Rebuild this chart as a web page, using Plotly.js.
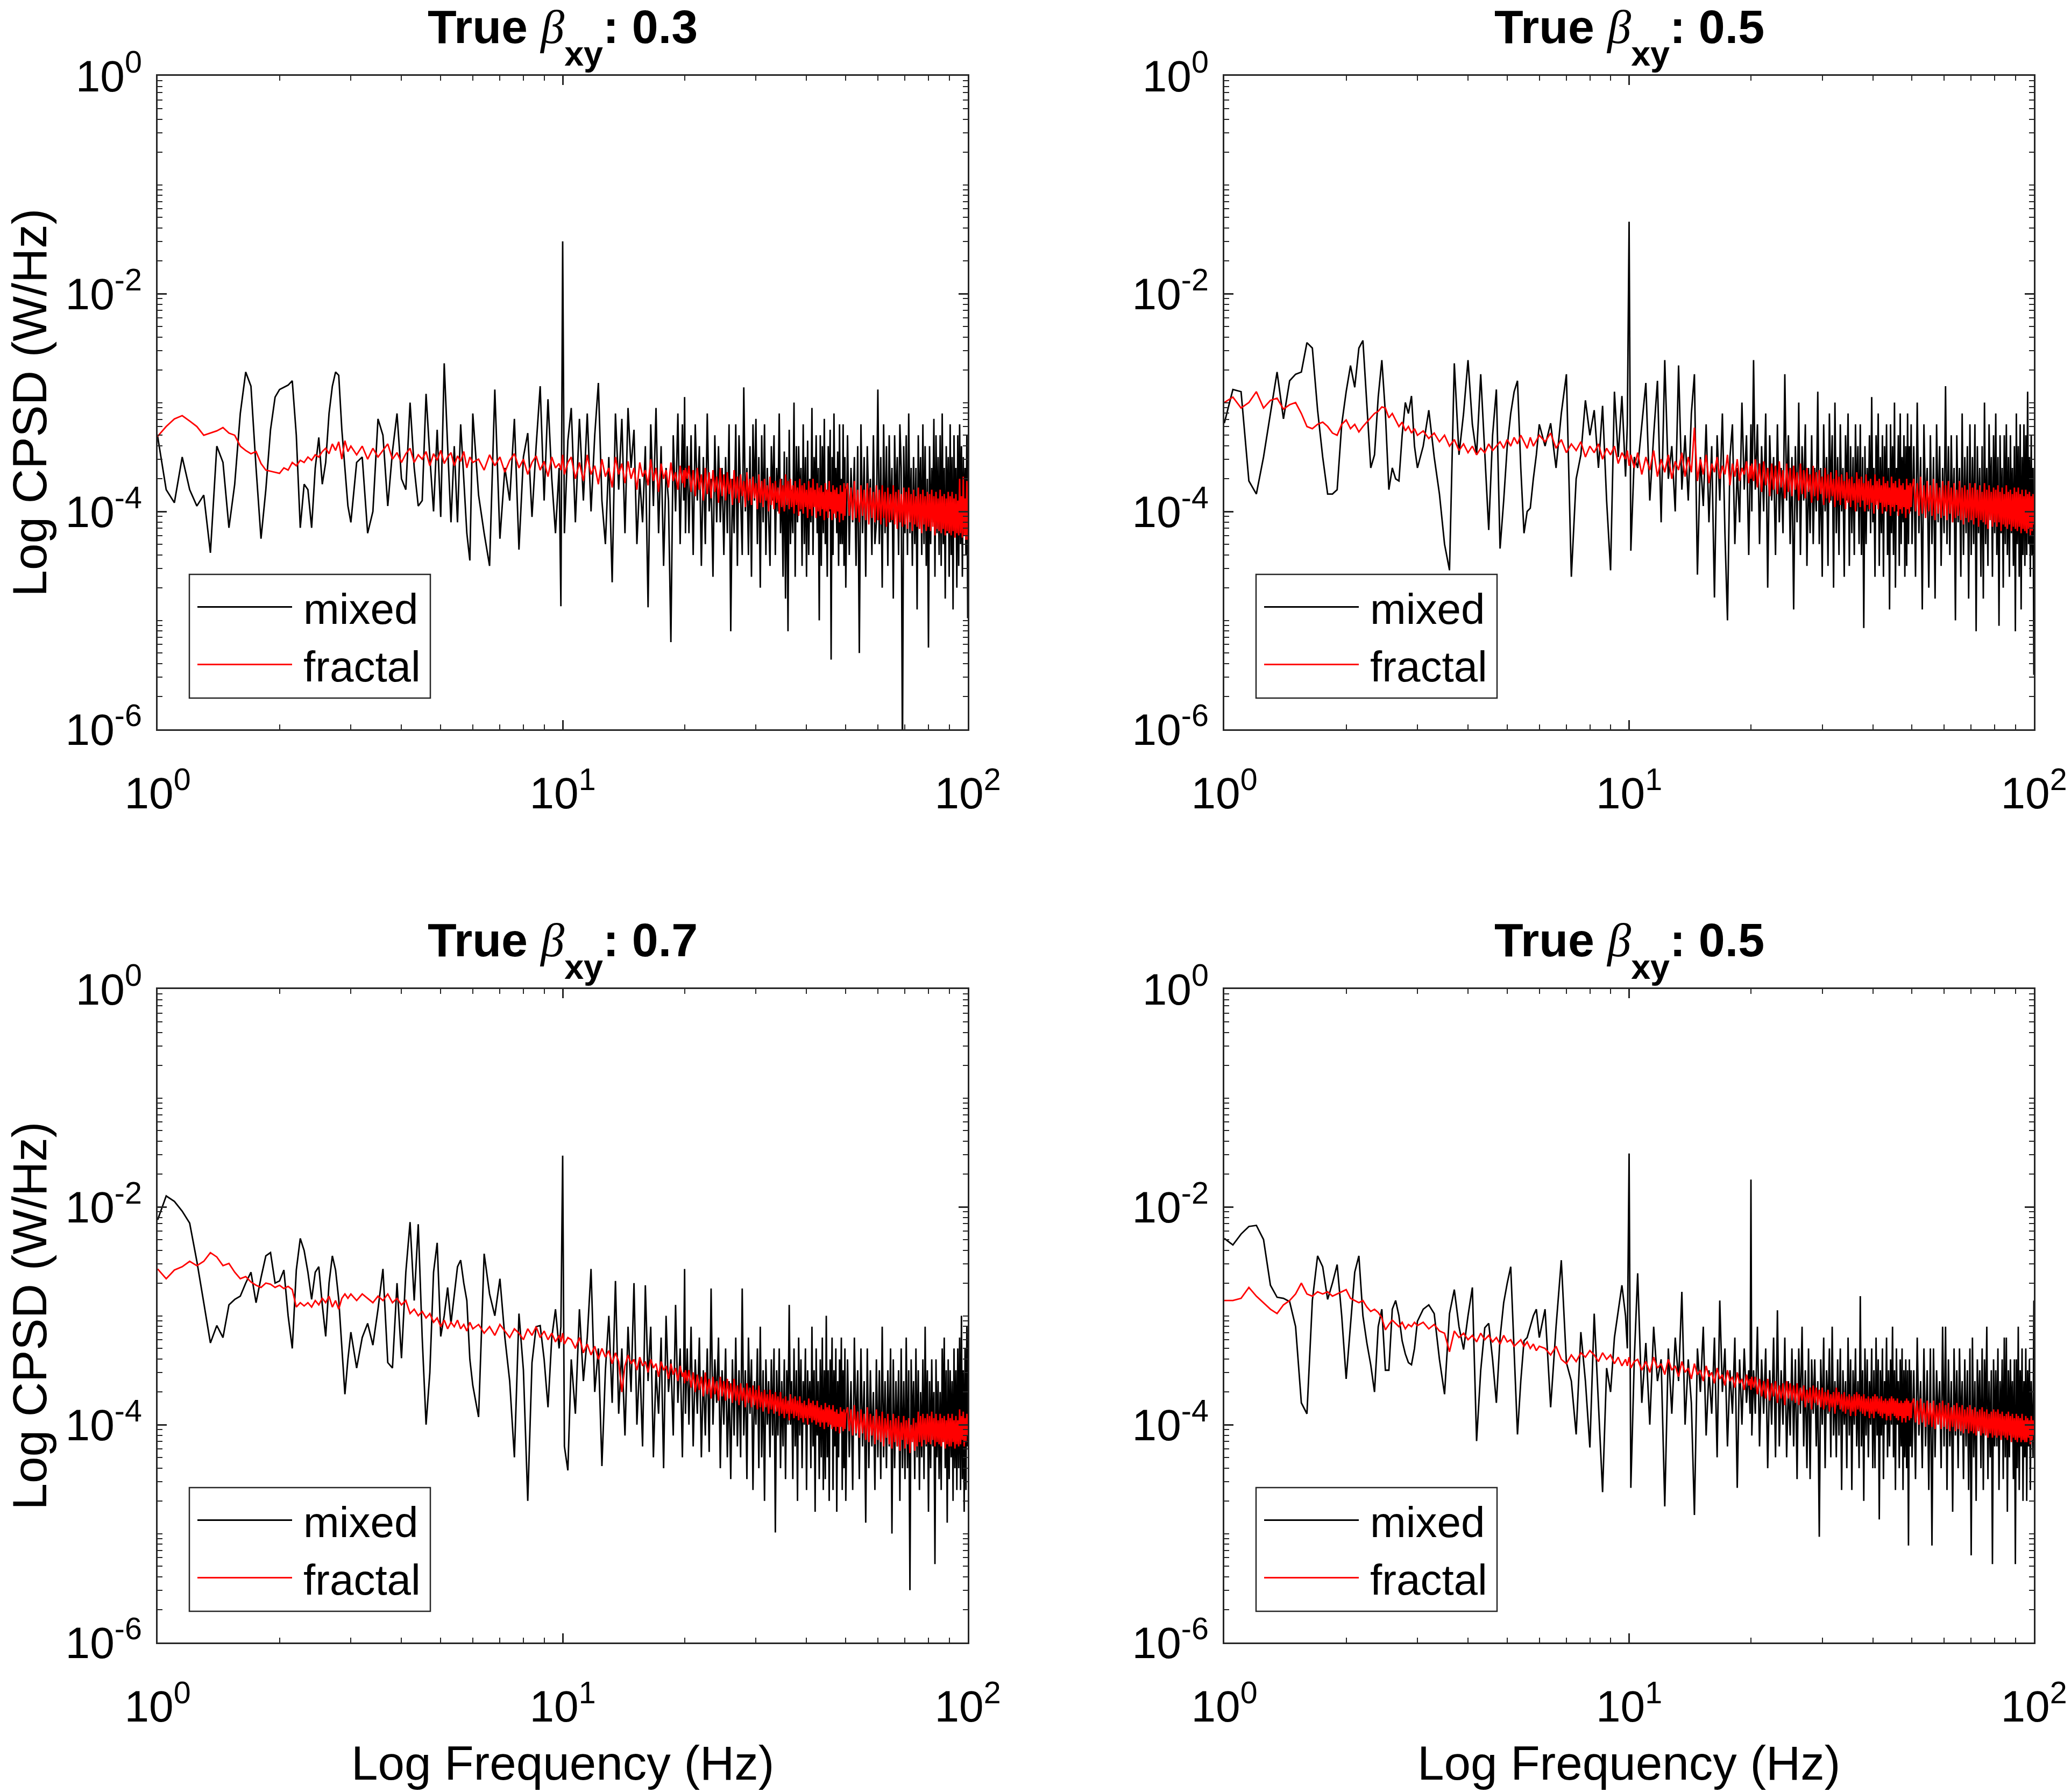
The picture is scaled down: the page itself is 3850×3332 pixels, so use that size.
<!DOCTYPE html>
<html>
<head>
<meta charset="utf-8">
<script src="https://cdn.plot.ly/plotly-3.0.1.min.js"></script>
<style>html,body{margin:0;padding:0;background:#fff;}#chart{width:3850px;height:3332px;}</style>
</head>
<body>
<div id="chart"></div>
<script>
// ---------------- DATA (frequency in Hz, CPSD values stored as log10 of W/Hz) ----------------
const freqHz = [
  1,1.05,1.1,1.15,1.2,1.25,1.3,1.35,1.4,1.45,
  1.5,1.55,1.6,1.65,1.7,1.75,1.8,1.85,1.9,1.95,
  2,2.05,2.1,2.15,2.2,2.25,2.3,2.35,2.4,2.45,
  2.5,2.55,2.6,2.65,2.7,2.75,2.8,2.85,2.9,2.95,3,
  3.1,3.2,3.3,3.4,3.5,3.6,3.7,3.8,3.9,4,
  4.1,4.2,4.3,4.4,4.5,4.6,4.7,4.8,4.9,5,
  5.1,5.2,5.3,5.4,5.5,5.6,5.7,5.8,5.9,6,
  6.2,6.4,6.6,6.8,7,7.2,7.4,7.6,7.8,8,
  8.2,8.4,8.6,8.8,9,9.2,9.4,9.6,9.8,
  9.9,10,10.1,10.3,
  10.5,10.75,11,11.25,11.5,11.75,12,12.25,12.5,12.75,
  13,13.25,13.5,13.75,14,14.25,14.5,14.75,15,15.25,
  15.5,15.75,16,16.25,16.5,16.75,17,17.25,17.5,17.75,
  18,18.25,18.5,18.75,19,19.25,19.5,19.75,
  19.9,20,20.1,20.3,
  20.5,20.75,21,21.25,21.5,21.75,22,22.25,22.5,22.75,23,23.25,23.5,23.75,24,24.25,
  24.5,24.75,25,25.25,25.5,25.75,26,26.25,26.5,26.75,27,27.25,27.5,27.75,28,28.25,
  28.5,28.75,29,29.25,29.5,29.75,30,30.25,30.5,30.75,31,31.25,31.5,31.75,32,32.25,
  32.5,32.75,33,33.25,33.5,33.75,34,34.25,34.5,34.75,35,35.25,35.5,35.75,36,36.25,
  36.5,36.75,37,37.25,37.5,37.75,38,38.25,38.5,38.75,39,39.25,39.5,39.75,40,40.25,
  40.5,40.75,41,41.25,41.5,41.75,42,42.25,42.5,42.75,43,43.25,43.5,43.75,44,44.25,
  44.5,44.75,45,45.25,45.5,45.75,46,46.25,46.5,46.75,47,47.25,47.5,47.75,48,48.25,
  48.5,48.75,49,49.25,49.5,49.75,50,
  50.5,51,51.5,52,52.5,53,53.5,54,54.5,55,
  55.5,56,56.5,57,57.5,58,58.5,59,59.5,60,
  60.5,61,61.5,62,62.5,63,63.5,64,64.5,65,
  65.5,66,66.5,67,67.5,68,68.5,69,69.5,70,
  70.5,71,71.5,72,72.5,73,73.5,74,74.5,75,
  75.5,76,76.5,77,77.5,78,78.5,79,79.5,80,
  80.5,81,81.5,82,82.5,83,83.5,84,84.5,85,
  85.5,86,86.5,87,87.5,88,88.5,89,89.5,90,
  90.5,91,91.5,92,92.5,93,93.5,94,94.5,95,
  95.5,96,96.5,97,97.5,98,98.5,99,99.5,100
];

// Panel 1: True beta_xy 0.3 (top left)
const mixedBeta03Log = [
  -3.31,-3.80,-3.92,-3.50,-3.80,-3.95,-3.85,-4.38,-3.40,-3.55,
  -4.15,-3.75,-3.10,-2.72,-2.85,-3.60,-4.25,-3.80,-3.25,-2.95,
  -2.88,-2.86,-2.84,-2.80,-3.30,-4.15,-3.75,-3.80,-4.15,-3.60,
  -3.32,-3.75,-3.55,-3.10,-2.85,-2.72,-2.75,-3.25,-3.60,-3.95,-4.10,
  -3.55,-3.50,-4.20,-4.00,-3.15,-3.30,-3.95,-3.45,-3.10,-3.70,
  -3.80,-3.00,-3.60,-3.95,-3.90,-2.92,-3.50,-4.00,-3.25,-4.05,
  -2.64,-3.40,-4.10,-3.40,-4.10,-3.20,-3.70,-4.20,-4.45,-3.10,
  -3.85,-4.20,-4.50,-2.88,-4.25,-3.60,-3.90,-3.15,-4.35,-3.50,
  -3.28,-4.05,-3.40,-2.85,-3.90,-2.97,-3.70,-4.20,-3.60,
  -4.87,-1.52,-4.20,-3.35,
  -3.05,-4.10,-3.15,-3.90,-3.10,-4.00,-3.30,-2.82,-3.90,-4.30,
  -3.50,-4.65,-3.10,-3.80,-3.15,-4.20,-3.05,-3.60,-3.25,-4.30,
  -3.70,-4.10,-3.40,-4.88,-3.20,-3.95,-3.05,-4.20,-3.40,-4.50,
  -3.60,-3.90,-5.20,-3.30,-4.00,-3.10,-4.30,-3.20,
  -3.90,-2.95,-4.20,-3.40,
  -4.20,-3.30,-4.40,-3.20,-3.90,-3.40,-4.50,-3.50,-4.30,-3.10,-4.00,-3.70,-4.60,-3.30,-4.10,-3.40,
  -4.10,-3.60,-4.40,-3.50,-4.20,-3.20,-5.10,-3.70,-4.20,-3.20,-4.50,-3.30,-3.90,-4.40,-2.86,-4.00,
  -3.60,-4.40,-3.40,-4.60,-3.20,-3.90,-3.15,-4.30,-3.50,-4.70,-3.30,-4.10,-3.20,-4.40,-3.60,-4.00,
  -4.50,-3.40,-3.90,-3.30,-4.40,-3.60,-4.00,-3.10,-4.20,-3.70,-4.60,-3.45,-4.80,-3.50,-5.10,-3.25,
  -4.30,-3.80,-4.20,-3.00,-4.60,-3.40,-4.10,-3.40,-4.00,-3.60,-4.50,-3.20,-4.30,-3.50,-4.60,-3.35,
  -4.40,-3.70,-4.10,-3.05,-4.40,-3.50,-3.90,-3.30,-4.20,-3.60,-5.00,-3.30,-4.50,-3.40,-4.20,-3.15,
  -4.30,-3.80,-4.60,-3.40,-4.00,-3.25,-5.36,-3.50,-4.40,-3.10,-4.00,-3.60,-4.20,-3.45,-4.50,-3.20,
  -4.30,-3.70,-4.30,-3.20,-4.50,-3.50,-4.70,
  -3.30,-4.40,-3.60,-4.10,-3.50,-4.50,-3.40,-5.30,-3.20,-4.20,
  -3.50,-4.60,-3.40,-4.00,-3.70,-4.40,-3.30,-4.30,-4.10,-2.88,
  -4.30,-3.50,-4.70,-3.20,-4.20,-3.40,-4.50,-3.30,-4.10,-3.60,
  -4.80,-3.30,-4.00,-3.50,-4.40,-3.20,-3.60,-6.30,-3.40,-4.20,
  -3.30,-4.40,-3.10,-4.20,-3.60,-4.50,-3.50,-4.30,-3.60,-4.90,
  -3.30,-4.10,-3.50,-4.40,-3.20,-4.30,-3.40,-4.50,-3.70,-5.25,
  -3.40,-4.30,-3.60,-4.10,-3.15,-4.60,-3.30,-4.20,-3.50,-4.40,
  -3.30,-4.50,-3.10,-4.30,-3.60,-4.80,-3.40,-4.20,-3.50,-4.60,
  -3.20,-4.40,-3.50,-4.90,-3.30,-4.20,-3.60,-4.70,-3.30,-4.50,
  -3.20,-4.30,-3.40,-4.60,-3.50,-4.20,-3.60,-4.40,-3.30,-4.98
];
const fractalBeta03Log = [
  -3.31,-3.22,-3.15,-3.12,-3.17,-3.22,-3.30,-3.28,-3.26,-3.23,
  -3.28,-3.30,-3.40,-3.44,-3.47,-3.45,-3.56,-3.62,-3.63,-3.64,
  -3.65,-3.60,-3.62,-3.55,-3.58,-3.53,-3.55,-3.50,-3.53,-3.48,
  -3.50,-3.45,-3.42,-3.47,-3.38,-3.44,-3.36,-3.52,-3.35,-3.45,-3.40,
  -3.48,-3.40,-3.52,-3.42,-3.50,-3.44,-3.38,-3.52,-3.46,-3.55,
  -3.47,-3.42,-3.55,-3.48,-3.52,-3.45,-3.58,-3.47,-3.53,-3.44,
  -3.56,-3.50,-3.46,-3.58,-3.49,-3.54,-3.45,-3.60,-3.50,-3.55,
  -3.52,-3.62,-3.48,-3.58,-3.50,-3.64,-3.53,-3.47,-3.60,-3.52,
  -3.66,-3.55,-3.49,-3.62,-3.54,-3.68,-3.50,-3.60,-3.56,
  -3.62,-3.48,-3.66,-3.55,
  -3.50,-3.70,-3.55,-3.72,-3.48,-3.66,-3.58,-3.75,-3.52,-3.68,
  -3.60,-3.78,-3.50,-3.66,-3.56,-3.74,-3.54,-3.70,-3.60,-3.80,
  -3.55,-3.68,-3.62,-3.76,-3.52,-3.72,-3.60,-3.82,-3.56,-3.70,
  -3.62,-3.78,-3.55,-3.72,-3.64,-3.80,-3.58,-3.74,
  -3.62,-3.78,-3.60,-3.70,
  -3.58,-3.82,-3.62,-3.86,-3.60,-3.80,-3.66,-3.90,-3.60,-3.84,-3.64,-3.88,-3.62,-3.82,-3.68,-3.92,
  -3.60,-3.86,-3.66,-3.90,-3.64,-3.84,-3.70,-3.94,-3.62,-3.88,-3.68,-3.92,-3.66,-3.86,-3.72,-3.96,
  -3.64,-3.90,-3.70,-3.94,-3.68,-3.88,-3.74,-3.98,-3.66,-3.92,-3.72,-3.96,-3.70,-3.90,-3.76,-4.00,
  -3.68,-3.94,-3.74,-3.98,-3.72,-3.92,-3.78,-4.02,-3.70,-3.96,-3.76,-4.00,-3.66,-3.94,-3.72,-3.98,
  -3.70,-3.96,-3.76,-4.02,-3.72,-3.94,-3.78,-4.04,-3.70,-3.98,-3.76,-4.02,-3.74,-3.96,-3.80,-4.06,
  -3.72,-3.98,-3.78,-4.04,-3.70,-3.96,-3.80,-4.06,-3.74,-4.00,-3.78,-4.04,-3.76,-3.98,-3.82,-4.08,
  -3.74,-4.00,-3.80,-4.06,-3.72,-3.98,-3.82,-4.08,-3.76,-4.02,-3.80,-4.06,-3.78,-4.00,-3.84,-4.10,
  -3.76,-4.02,-3.82,-4.08,-3.74,-4.04,-3.80,
  -3.74,-4.04,-3.78,-4.08,-3.72,-4.06,-3.80,-4.10,-3.76,-4.04,
  -3.80,-4.08,-3.74,-4.12,-3.78,-4.06,-3.82,-4.10,-3.76,-4.08,
  -3.80,-4.12,-3.76,-4.06,-3.82,-4.14,-3.78,-4.10,-3.84,-4.08,
  -3.76,-4.12,-3.82,-4.16,-3.80,-4.10,-3.84,-4.14,-3.78,-4.12,
  -3.82,-4.16,-3.78,-4.10,-3.84,-4.18,-3.80,-4.12,-3.86,-4.14,
  -3.78,-4.16,-3.84,-4.20,-3.80,-4.12,-3.86,-4.18,-3.82,-4.14,
  -3.84,-4.18,-3.80,-4.14,-3.86,-4.22,-3.82,-4.16,-3.88,-4.18,
  -3.80,-4.20,-3.86,-4.16,-3.84,-4.22,-3.88,-4.18,-3.82,-4.20,
  -3.86,-4.22,-3.82,-4.18,-3.88,-4.24,-3.84,-4.20,-3.90,-4.22,
  -3.70,-4.20,-3.86,-4.24,-3.68,-4.22,-3.88,-4.26,-3.72,-4.26
];

// Panel 2: True beta_xy 0.5 (top right)
const mixedBeta05aLog = [
  -3.19,-2.88,-2.90,-3.72,-3.84,-3.50,-3.10,-2.72,-3.15,-2.80,
  -2.74,-2.72,-2.45,-2.50,-3.07,-3.50,-3.84,-3.84,-3.80,-3.20,
  -2.90,-2.66,-2.86,-2.50,-2.43,-3.00,-3.60,-3.48,-2.95,-2.61,
  -3.10,-3.80,-3.60,-3.70,-3.72,-3.30,-3.00,-3.10,-2.94,-3.40,-3.60,
  -3.40,-3.07,-3.50,-3.84,-4.30,-4.54,-2.64,-3.48,-3.10,-2.61,
  -3.20,-3.48,-2.74,-3.50,-4.17,-3.30,-2.88,-4.34,-3.90,-3.40,
  -3.10,-2.90,-2.80,-3.60,-4.20,-4.00,-3.97,-3.70,-3.48,-3.20,
  -3.40,-3.19,-3.60,-3.10,-2.74,-4.60,-3.70,-3.48,-2.98,-3.30,
  -3.07,-3.60,-3.03,-3.90,-4.54,-2.90,-3.50,-2.94,-3.68,
  -3.20,-1.34,-4.36,-3.50,
  -3.60,-3.20,-2.82,-3.90,-3.30,-2.80,-4.10,-2.61,-3.70,-3.40,
  -4.00,-2.66,-3.80,-3.30,-3.90,-3.10,-2.74,-4.58,-3.50,-3.95,
  -3.20,-4.10,-3.40,-4.79,-3.30,-3.90,-3.10,-4.20,-5.00,-3.50,
  -3.20,-4.30,-3.60,-4.10,-3.00,-3.80,-3.30,-4.40,
  -3.70,-3.20,-4.00,-2.61,
  -3.80,-3.20,-4.30,-3.40,-4.00,-3.10,-4.70,-3.30,-3.90,-3.50,-4.40,-3.20,-4.10,-3.60,-4.20,-2.74,
  -3.90,-3.30,-4.30,-3.50,-4.90,-3.40,-4.10,-3.00,-4.40,-3.40,-3.90,-3.20,-4.50,-3.60,-4.20,-3.30,
  -4.30,-3.60,-4.00,-2.90,-4.30,-3.60,-4.60,-3.20,-4.00,-3.50,-4.50,-3.10,-3.90,-3.30,-4.70,-3.00,
  -4.20,-3.50,-4.40,-3.20,-4.00,-3.60,-4.60,-3.30,-3.90,-3.10,-4.50,-3.40,-4.20,-3.50,-4.40,-3.20,
  -4.00,-3.40,-4.30,-3.20,-4.40,-3.50,-5.07,-3.40,-4.30,-3.60,-4.00,-3.30,-4.20,-2.95,-4.10,-3.60,
  -4.60,-3.30,-3.90,-3.10,-4.50,-3.50,-4.20,-3.30,-4.60,-3.40,-4.00,-3.20,-4.40,-3.60,-4.90,-3.20,
  -4.20,-3.40,-4.40,-3.00,-4.70,-3.60,-4.00,-3.30,-4.50,-3.10,-4.30,-3.50,-4.10,-3.30,-4.60,-3.40,
  -4.50,-3.10,-4.30,-3.40,-4.00,-3.20,-4.30,
  -3.40,-4.60,-3.00,-4.20,-3.50,-4.90,-3.20,-4.00,-3.60,-4.70,
  -3.30,-4.30,-3.50,-4.80,-3.20,-4.10,-3.40,-4.50,-3.60,-4.20,
  -2.85,-4.30,-3.40,-4.40,-3.30,-4.10,-3.60,-5.00,-3.30,-4.10,
  -3.60,-4.60,-3.10,-4.40,-3.50,-4.20,-3.40,-4.80,-3.20,-4.40,
  -3.50,-4.30,-3.20,-5.10,-3.40,-4.20,-3.60,-4.60,-3.40,-4.80,
  -3.00,-4.30,-3.60,-4.50,-3.20,-4.00,-3.50,-4.60,-3.30,-4.20,
  -3.10,-4.40,-3.50,-5.05,-3.30,-4.20,-3.60,-4.70,-3.30,-4.30,
  -3.20,-4.40,-3.50,-4.60,-3.30,-4.20,-3.60,-4.50,-3.40,-5.10,
  -3.10,-4.30,-3.40,-4.60,-3.20,-4.90,-3.50,-4.40,-3.20,-4.50,
  -3.30,-4.40,-2.90,-4.30,-3.50,-4.60,-3.30,-4.40,-3.60,-5.50
];
const fractalBeta05aLog = [
  -3.00,-2.95,-3.05,-3.00,-2.90,-3.05,-2.98,-2.96,-3.06,-3.02,
  -3.00,-3.10,-3.22,-3.24,-3.20,-3.18,-3.22,-3.28,-3.30,-3.20,
  -3.16,-3.24,-3.20,-3.27,-3.22,-3.18,-3.14,-3.10,-3.08,-3.04,
  -3.05,-3.14,-3.10,-3.16,-3.22,-3.18,-3.26,-3.22,-3.28,-3.24,-3.30,
  -3.26,-3.33,-3.28,-3.36,-3.30,-3.40,-3.34,-3.44,-3.38,-3.46,
  -3.40,-3.48,-3.42,-3.46,-3.38,-3.44,-3.40,-3.36,-3.42,-3.34,
  -3.40,-3.32,-3.38,-3.30,-3.36,-3.42,-3.32,-3.40,-3.35,-3.30,
  -3.36,-3.28,-3.42,-3.34,-3.46,-3.38,-3.44,-3.36,-3.50,-3.40,
  -3.46,-3.38,-3.52,-3.42,-3.48,-3.40,-3.56,-3.46,-3.52,
  -3.44,-3.58,-3.48,-3.60,
  -3.46,-3.66,-3.50,-3.62,-3.44,-3.68,-3.52,-3.64,-3.48,-3.70,
  -3.54,-3.62,-3.46,-3.68,-3.50,-3.64,-3.23,-3.72,-3.52,-3.66,
  -3.48,-3.74,-3.56,-3.64,-3.50,-3.70,-3.58,-3.66,-3.48,-3.76,
  -3.56,-3.68,-3.52,-3.72,-3.60,-3.66,-3.54,-3.74,
  -3.58,-3.70,-3.56,-3.72,
  -3.52,-3.78,-3.56,-3.82,-3.54,-3.76,-3.60,-3.86,-3.56,-3.80,-3.58,-3.84,-3.54,-3.78,-3.62,-3.88,
  -3.56,-3.82,-3.60,-3.86,-3.58,-3.80,-3.64,-3.90,-3.56,-3.84,-3.62,-3.88,-3.60,-3.82,-3.66,-3.92,
  -3.58,-3.86,-3.64,-3.90,-3.62,-3.84,-3.68,-3.94,-3.60,-3.88,-3.66,-3.92,-3.64,-3.86,-3.70,-3.96,
  -3.62,-3.90,-3.68,-3.94,-3.66,-3.88,-3.72,-3.98,-3.64,-3.92,-3.70,-3.96,-3.68,-3.90,-3.74,-4.00,
  -3.64,-3.92,-3.70,-3.96,-3.68,-3.90,-3.74,-4.00,-3.66,-3.94,-3.72,-3.98,-3.70,-3.92,-3.76,-4.02,
  -3.66,-3.94,-3.72,-3.98,-3.70,-3.92,-3.76,-4.02,-3.68,-3.96,-3.74,-4.00,-3.72,-3.94,-3.78,-4.04,
  -3.68,-3.96,-3.74,-4.00,-3.72,-3.94,-3.78,-4.04,-3.70,-3.98,-3.76,-4.02,-3.74,-3.96,-3.80,-4.06,
  -3.70,-3.98,-3.76,-4.02,-3.74,-3.96,-3.78,
  -3.70,-4.00,-3.74,-4.04,-3.68,-4.02,-3.76,-4.06,-3.72,-4.00,
  -3.76,-4.04,-3.70,-4.08,-3.74,-4.02,-3.78,-4.06,-3.72,-4.04,
  -3.76,-4.08,-3.72,-4.02,-3.78,-4.10,-3.74,-4.06,-3.80,-4.04,
  -3.72,-4.08,-3.78,-4.12,-3.76,-4.06,-3.80,-4.10,-3.74,-4.08,
  -3.78,-4.12,-3.74,-4.06,-3.80,-4.14,-3.76,-4.08,-3.82,-4.10,
  -3.74,-4.12,-3.80,-4.16,-3.76,-4.08,-3.82,-4.14,-3.78,-4.10,
  -3.80,-4.14,-3.76,-4.10,-3.82,-4.18,-3.78,-4.12,-3.84,-4.14,
  -3.76,-4.16,-3.82,-4.12,-3.80,-4.18,-3.84,-4.14,-3.78,-4.16,
  -3.82,-4.18,-3.78,-4.14,-3.84,-4.20,-3.80,-4.16,-3.86,-4.18,
  -3.80,-4.20,-3.84,-4.16,-3.82,-4.22,-3.86,-4.18,-3.84,-4.12
];

// Panel 3: True beta_xy 0.7 (bottom left)
const mixedBeta07Log = [
  -2.12,-1.90,-1.95,-2.04,-2.15,-2.50,-2.88,-3.25,-3.09,-3.20,
  -2.90,-2.85,-2.82,-2.70,-2.60,-2.88,-2.65,-2.45,-2.42,-2.70,
  -2.68,-2.58,-3.00,-3.30,-2.58,-2.29,-2.40,-2.60,-2.85,-2.60,
  -2.55,-2.90,-3.19,-2.70,-2.45,-2.58,-2.85,-3.30,-3.72,-3.40,-3.15,
  -3.48,-3.20,-3.07,-3.27,-2.94,-2.57,-3.43,-3.48,-2.70,-3.39,
  -2.60,-2.14,-2.86,-2.16,-3.20,-4.00,-3.52,-2.60,-2.33,-3.19,
  -3.00,-2.74,-3.07,-2.80,-2.55,-2.49,-2.70,-2.86,-3.40,-3.64,
  -3.93,-2.43,-2.80,-3.00,-2.66,-3.20,-3.60,-4.30,-2.98,-3.50,
  -4.70,-3.43,-3.10,-3.09,-3.40,-3.84,-3.20,-2.94,-3.30,
  -3.10,-1.53,-4.20,-4.42,
  -3.40,-3.90,-2.94,-3.60,-3.20,-2.57,-3.70,-3.30,-4.38,-3.50,
  -3.00,-3.80,-2.68,-3.90,-3.30,-4.10,-3.10,-3.70,-2.70,-4.00,
  -3.40,-4.20,-2.72,-3.60,-3.10,-4.30,-3.50,-3.90,-3.20,-4.40,
  -3.00,-3.70,-3.40,-4.10,-2.90,-3.80,-3.30,-4.30,
  -3.50,-2.57,-3.90,-3.30,
  -4.00,-3.10,-4.20,-3.40,-3.90,-3.20,-4.30,-3.50,-4.10,-3.30,-4.25,-2.75,-4.00,-3.40,-3.80,-3.20,
  -4.40,-3.50,-4.00,-3.30,-4.30,-3.60,-4.50,-3.40,-4.10,-3.20,-4.20,-3.50,-4.30,-2.75,-4.10,-3.50,
  -4.50,-3.20,-3.90,-3.40,-4.60,-3.60,-4.00,-3.30,-4.40,-3.10,-4.30,-3.50,-4.70,-3.40,-4.00,-3.60,
  -4.30,-3.40,-4.10,-3.30,-4.99,-3.50,-4.10,-3.30,-4.40,-3.60,-4.20,-3.40,-4.50,-3.50,-4.00,-2.90,
  -4.00,-3.60,-4.50,-3.30,-4.20,-3.50,-4.70,-3.20,-4.10,-3.40,-4.40,-3.60,-4.00,-3.30,-4.60,-3.50,
  -4.00,-3.60,-4.40,-3.10,-4.20,-3.50,-4.80,-3.30,-4.10,-3.60,-4.50,-3.40,-4.30,-3.20,-4.60,-3.50,
  -4.50,-3.00,-4.30,-3.50,-4.70,-3.40,-4.00,-3.20,-4.60,-3.50,-4.20,-3.30,-4.80,-3.60,-4.30,-3.40,
  -4.00,-3.20,-4.60,-3.50,-4.40,-3.30,-4.70,
  -3.40,-4.30,-3.60,-4.60,-3.20,-4.10,-3.50,-4.50,-3.30,-4.20,
  -3.60,-4.90,-3.30,-4.40,-3.50,-4.20,-3.70,-4.60,-3.40,-4.30,
  -3.50,-4.50,-3.10,-4.30,-3.60,-4.40,-3.50,-4.20,-3.30,-5.00,
  -3.40,-4.40,-3.60,-4.20,-3.50,-4.70,-3.30,-4.40,-3.60,-4.50,
  -3.20,-4.40,-3.50,-5.52,-3.40,-4.10,-3.60,-4.50,-3.30,-4.30,
  -3.50,-4.60,-3.70,-4.30,-3.40,-4.50,-3.10,-4.20,-3.50,-4.80,
  -3.60,-4.40,-3.40,-4.20,-3.70,-5.28,-3.40,-4.30,-3.60,-4.50,
  -3.70,-4.60,-3.30,-4.00,-3.20,-4.40,-3.50,-4.90,-3.40,-4.50,
  -3.50,-4.30,-3.60,-4.70,-3.30,-4.40,-3.50,-4.60,-3.30,-4.40,
  -3.20,-4.60,-3.00,-4.50,-3.50,-4.80,-3.30,-4.60,-3.10,-4.20
];
const fractalBeta07Log = [
  -2.57,-2.66,-2.58,-2.55,-2.50,-2.54,-2.50,-2.42,-2.46,-2.54,
  -2.52,-2.60,-2.66,-2.64,-2.69,-2.72,-2.74,-2.70,-2.71,-2.74,
  -2.72,-2.75,-2.73,-2.76,-2.92,-2.88,-2.91,-2.88,-2.92,-2.86,
  -2.90,-2.84,-2.88,-2.82,-2.92,-2.86,-2.94,-2.84,-2.80,-2.84,-2.80,
  -2.86,-2.80,-2.84,-2.88,-2.82,-2.86,-2.80,-2.88,-2.84,-2.90,
  -2.86,-2.98,-2.94,-3.00,-2.96,-3.02,-2.98,-3.06,-3.02,-3.10,
  -3.04,-3.12,-3.06,-3.10,-3.04,-3.12,-3.08,-3.14,-3.06,-3.12,
  -3.08,-3.16,-3.10,-3.18,-3.08,-3.14,-3.20,-3.12,-3.16,-3.22,
  -3.12,-3.18,-3.10,-3.20,-3.14,-3.22,-3.16,-3.24,-3.18,
  -3.24,-3.16,-3.26,-3.20,
  -3.22,-3.30,-3.20,-3.34,-3.26,-3.36,-3.28,-3.40,-3.30,-3.38,
  -3.32,-3.44,-3.34,-3.42,-3.70,-3.46,-3.36,-3.44,-3.40,-3.50,
  -3.38,-3.46,-3.42,-3.52,-3.40,-3.48,-3.44,-3.56,-3.42,-3.50,
  -3.46,-3.58,-3.44,-3.54,-3.48,-3.60,-3.46,-3.56,
  -3.52,-3.62,-3.50,-3.60,
  -3.50,-3.66,-3.52,-3.70,-3.54,-3.68,-3.56,-3.74,-3.52,-3.72,-3.58,-3.76,-3.56,-3.72,-3.60,-3.78,
  -3.56,-3.74,-3.60,-3.78,-3.58,-3.76,-3.62,-3.80,-3.58,-3.78,-3.64,-3.82,-3.62,-3.78,-3.66,-3.84,
  -3.62,-3.80,-3.66,-3.84,-3.64,-3.82,-3.68,-3.86,-3.64,-3.84,-3.70,-3.88,-3.68,-3.84,-3.72,-3.90,
  -3.68,-3.86,-3.72,-3.90,-3.70,-3.88,-3.74,-3.92,-3.70,-3.90,-3.76,-3.94,-3.74,-3.90,-3.78,-3.96,
  -3.72,-3.90,-3.76,-3.94,-3.74,-3.92,-3.78,-3.96,-3.74,-3.94,-3.80,-3.98,-3.78,-3.94,-3.82,-4.00,
  -3.76,-3.94,-3.80,-3.98,-3.78,-3.96,-3.82,-4.00,-3.78,-3.98,-3.84,-4.02,-3.82,-3.98,-3.86,-4.04,
  -3.80,-3.98,-3.84,-4.02,-3.82,-4.00,-3.86,-4.04,-3.82,-4.02,-3.88,-4.06,-3.86,-4.02,-3.90,-4.08,
  -3.84,-4.02,-3.88,-4.06,-3.86,-4.04,-3.90,
  -3.84,-4.06,-3.86,-4.10,-3.82,-4.08,-3.88,-4.12,-3.86,-4.08,
  -3.90,-4.14,-3.84,-4.16,-3.90,-4.10,-3.92,-4.18,-3.86,-4.14,
  -3.92,-4.16,-3.88,-4.20,-3.94,-4.12,-3.90,-4.18,-3.96,-4.22,
  -3.90,-4.16,-3.94,-4.20,-3.92,-4.24,-3.98,-4.14,-3.92,-4.22,
  -3.96,-4.18,-3.94,-4.26,-4.00,-4.16,-3.94,-4.24,-3.98,-4.20,
  -3.88,-4.16,-3.92,-4.20,-3.90,-4.14,-3.94,-4.18,-3.90,-4.16,
  -3.92,-4.18,-3.88,-4.14,-3.94,-4.20,-3.90,-4.16,-3.96,-4.18,
  -3.90,-4.20,-3.94,-4.16,-3.92,-4.22,-3.96,-4.18,-3.90,-4.20,
  -3.94,-4.20,-3.90,-4.16,-3.96,-4.22,-3.92,-4.18,-3.96,-4.20,
  -3.86,-4.18,-3.92,-4.14,-3.88,-4.20,-3.94,-4.16,-3.90,-4.10
];

// Panel 4: True beta_xy 0.5 (bottom right)
const mixedBeta05bLog = [
  -2.29,-2.35,-2.25,-2.18,-2.17,-2.30,-2.72,-2.83,-2.84,-2.87,
  -3.10,-3.80,-3.90,-2.86,-2.45,-2.55,-2.85,-2.70,-2.53,-3.00,
  -3.58,-3.10,-2.60,-2.45,-3.00,-3.25,-3.45,-3.70,-3.10,-2.94,
  -3.50,-3.50,-2.94,-2.86,-3.00,-3.23,-3.35,-3.43,-3.45,-3.30,-3.05,
  -2.94,-2.90,-2.98,-3.40,-3.72,-2.98,-2.76,-3.10,-3.31,-3.00,
  -2.74,-4.15,-3.50,-3.11,-3.07,-3.40,-3.80,-3.20,-2.88,-2.70,
  -2.55,-3.30,-4.09,-3.60,-3.23,-3.20,-3.10,-3.00,-2.94,-3.20,
  -2.94,-3.84,-3.10,-2.49,-3.43,-3.60,-4.09,-3.15,-3.60,-4.21,
  -2.98,-3.80,-4.62,-3.48,-3.70,-3.20,-2.96,-2.72,-3.00,
  -3.30,-1.51,-4.58,-3.40,
  -2.61,-3.80,-3.25,-4.00,-3.10,-3.60,-3.40,-4.75,-3.30,-3.90,
  -3.20,-3.60,-2.78,-4.00,-3.40,-3.80,-4.83,-3.30,-3.70,-3.10,
  -4.10,-3.50,-3.90,-3.20,-4.30,-2.86,-3.70,-3.30,-4.20,-3.50,
  -3.90,-3.20,-4.58,-3.40,-4.00,-3.30,-3.80,-3.50,
  -3.90,-1.75,-4.10,-3.50,
  -3.90,-3.10,-4.20,-3.40,-3.90,-3.30,-4.40,-3.50,-4.00,-3.20,-4.30,-2.95,-4.20,-3.50,-4.00,-3.20,
  -4.30,-3.60,-4.10,-3.30,-4.20,-3.40,-4.50,-3.30,-3.90,-3.10,-4.20,-3.50,-4.40,-3.30,-4.50,-3.40,
  -3.90,-3.40,-4.20,-3.60,-5.03,-3.40,-4.00,-3.20,-4.40,-3.50,-3.90,-3.30,-4.30,-3.10,-4.10,-3.60,
  -4.30,-3.40,-4.10,-3.30,-4.60,-3.50,-4.00,-3.60,-4.40,-3.20,-4.10,-3.40,-4.60,-3.50,-4.00,-3.30,
  -4.20,-3.60,-4.40,-2.82,-4.20,-3.50,-4.70,-3.30,-4.10,-3.40,-4.30,-3.60,-4.00,-3.30,-4.40,-3.50,
  -4.40,-3.20,-4.10,-3.40,-4.87,-3.50,-4.10,-3.30,-4.50,-3.60,-4.00,-3.20,-4.30,-3.50,-4.20,-3.40,
  -4.00,-3.10,-4.30,-3.50,-4.60,-3.30,-4.00,-3.60,-4.40,-3.40,-4.20,-3.30,-4.60,-3.50,-4.30,-3.40,
  -4.40,-3.50,-5.11,-3.40,-4.20,-3.50,-4.30,
  -3.50,-4.50,-3.20,-4.10,-3.60,-4.40,-3.30,-4.20,-3.50,-4.60,
  -3.30,-5.11,-3.30,-4.30,-3.50,-4.00,-3.60,-4.40,-3.10,-4.20,
  -3.10,-4.60,-3.40,-4.20,-3.60,-4.80,-3.30,-4.10,-3.50,-4.40,
  -3.30,-4.10,-3.60,-4.50,-3.40,-4.20,-3.50,-4.60,-3.30,-5.20,
  -3.20,-4.30,-3.60,-4.70,-3.40,-4.00,-3.50,-4.40,-3.30,-4.60,
  -3.40,-4.00,-3.10,-4.50,-3.60,-4.30,-3.50,-5.28,-3.40,-4.20,
  -3.50,-4.20,-3.30,-4.60,-3.60,-4.10,-3.40,-4.50,-3.20,-4.30,
  -3.20,-4.80,-3.50,-4.30,-3.40,-4.10,-3.60,-4.50,-3.40,-5.28,
  -3.40,-4.40,-3.10,-4.60,-3.50,-4.20,-3.30,-4.70,-3.60,-4.30,
  -3.30,-4.70,-3.50,-4.20,-3.40,-4.60,-3.60,-4.00,-4.30,-2.86
];
const fractalBeta05bLog = [
  -2.86,-2.86,-2.84,-2.74,-2.82,-2.88,-2.94,-2.98,-2.90,-2.86,
  -2.80,-2.70,-2.80,-2.82,-2.78,-2.80,-2.78,-2.82,-2.80,-2.78,
  -2.76,-2.84,-2.86,-2.88,-2.86,-2.92,-2.96,-2.94,-2.97,-3.02,
  -3.13,-3.08,-3.04,-3.07,-3.10,-3.06,-3.12,-3.08,-3.10,-3.06,-3.09,
  -3.06,-3.12,-3.08,-3.14,-3.16,-3.33,-3.14,-3.20,-3.16,-3.22,
  -3.18,-3.24,-3.16,-3.22,-3.18,-3.24,-3.20,-3.26,-3.18,-3.24,
  -3.22,-3.28,-3.25,-3.22,-3.28,-3.24,-3.30,-3.26,-3.32,-3.28,
  -3.30,-3.36,-3.28,-3.40,-3.44,-3.36,-3.42,-3.34,-3.38,-3.32,
  -3.36,-3.42,-3.34,-3.40,-3.36,-3.44,-3.38,-3.46,-3.40,
  -3.46,-3.38,-3.48,-3.42,
  -3.40,-3.50,-3.42,-3.52,-3.38,-3.48,-3.44,-3.54,-3.40,-3.50,
  -3.46,-3.56,-3.42,-3.52,-3.48,-3.58,-3.44,-3.54,-3.50,-3.60,
  -3.46,-3.56,-3.52,-3.62,-3.48,-3.58,-3.54,-3.64,-3.50,-3.60,
  -3.56,-3.66,-3.52,-3.62,-3.58,-3.68,-3.54,-3.64,
  -3.58,-3.68,-3.56,-3.66,
  -3.56,-3.72,-3.58,-3.74,-3.60,-3.76,-3.58,-3.78,-3.62,-3.74,-3.60,-3.80,-3.64,-3.76,-3.62,-3.82,
  -3.60,-3.76,-3.62,-3.78,-3.64,-3.80,-3.62,-3.82,-3.66,-3.78,-3.64,-3.84,-3.68,-3.80,-3.66,-3.86,
  -3.64,-3.80,-3.66,-3.82,-3.68,-3.84,-3.66,-3.86,-3.70,-3.82,-3.68,-3.88,-3.72,-3.84,-3.70,-3.90,
  -3.66,-3.82,-3.70,-3.86,-3.72,-3.88,-3.70,-3.90,-3.74,-3.86,-3.72,-3.92,-3.74,-3.88,-3.72,-3.92,
  -3.70,-3.86,-3.72,-3.88,-3.74,-3.90,-3.72,-3.92,-3.76,-3.88,-3.74,-3.94,-3.76,-3.90,-3.74,-3.94,
  -3.72,-3.88,-3.74,-3.90,-3.76,-3.92,-3.74,-3.94,-3.78,-3.90,-3.76,-3.96,-3.78,-3.92,-3.76,-3.96,
  -3.74,-3.90,-3.76,-3.92,-3.78,-3.94,-3.76,-3.96,-3.80,-3.92,-3.78,-3.98,-3.80,-3.94,-3.78,-3.98,
  -3.76,-3.92,-3.78,-3.96,-3.80,-3.94,-3.80,
  -3.76,-3.98,-3.78,-4.00,-3.76,-3.98,-3.80,-4.02,-3.78,-4.00,
  -3.80,-4.02,-3.78,-4.04,-3.82,-4.00,-3.80,-4.04,-3.78,-4.02,
  -3.82,-4.04,-3.80,-4.06,-3.84,-4.02,-3.82,-4.06,-3.80,-4.04,
  -3.84,-4.06,-3.82,-4.08,-3.86,-4.04,-3.84,-4.08,-3.82,-4.06,
  -3.86,-4.08,-3.84,-4.10,-3.88,-4.06,-3.86,-4.10,-3.84,-4.08,
  -3.88,-4.10,-3.86,-4.12,-3.90,-4.08,-3.88,-4.12,-3.86,-4.10,
  -3.88,-4.12,-3.86,-4.10,-3.90,-4.14,-3.88,-4.10,-3.92,-4.12,
  -3.90,-4.14,-3.88,-4.10,-3.92,-4.16,-3.90,-4.12,-3.94,-4.14,
  -3.90,-4.16,-3.92,-4.12,-3.94,-4.16,-3.90,-4.14,-3.96,-4.16,
  -3.92,-4.16,-3.94,-4.12,-3.96,-4.18,-3.92,-4.14,-3.96,-4.10
];

const panelTitles = ['0.3', '0.5', '0.7', '0.5'];
const seriesNames = ['mixed', 'fractal'];
const xTickVals = [1, 10, 100];
const xTickText = ['10<sup>0</sup>', '10<sup>1</sup>', '10<sup>2</sup>'];
const yTickVals = [1e-6, 1e-4, 1e-2, 1];
const yTickText = ['10<sup>-6</sup>', '10<sup>-4</sup>', '10<sup>-2</sup>', '10<sup>0</sup>'];
const xAxisTitle = 'Log Frequency (Hz)';
const yAxisTitle = 'Log CPSD (W/Hz)';

// ---------------- CHART ----------------
const FONT = 'Liberation Sans, Arial, Helvetica, sans-serif';
const AXC = '#262626';
const W = 3850, H = 3332;

const mixedSets = [mixedBeta03Log, mixedBeta05aLog, mixedBeta07Log, mixedBeta05bLog];
const fractalSets = [fractalBeta03Log, fractalBeta05aLog, fractalBeta07Log, fractalBeta05bLog];
const toLin = arr => arr.map(v => Math.pow(10, v));

// minor tick positions (2..9 per decade, plus odd decades on y)
const xMinor = [];
[1, 10].forEach(d => { for (let m = 2; m <= 9; m++) xMinor.push(m * d); });
const yMinor = [];
for (let k = -6; k < 0; k++) {
  for (let m = 1; m <= 9; m++) {
    if (m === 1 && k % 2 === 0) continue;
    yMinor.push(m * Math.pow(10, k));
  }
}

// panel boxes in pixels: [left, right, top, bottom]
const boxes = [
  [293, 1799, 141, 1356],
  [2276, 3781, 141, 1356],
  [293, 1799, 1839, 3054],
  [2276, 3781, 1839, 3054]
];

const traces = [];
const layout = {
  width: W, height: H,
  margin: {l: 0, r: 0, t: 0, b: 0},
  paper_bgcolor: '#fff', plot_bgcolor: '#fff',
  font: {family: FONT, color: '#000'},
  annotations: [],
  shapes: [],
  showlegend: true
};

const px = v => v / W;
const py = v => 1 - v / H;

boxes.forEach((b, i) => {
  const n = i === 0 ? '' : String(i + 1);
  const legName = 'legend' + n;

  traces.push({
    x: freqHz, y: toLin(mixedSets[i]), type: 'scatter', mode: 'lines',
    name: '\u2009' + seriesNames[0], line: {color: '#000000', width: 2.8},
    xaxis: 'x' + n, yaxis: 'y' + n, legend: legName, hoverinfo: 'skip'
  });
  traces.push({
    x: freqHz, y: toLin(fractalSets[i]), type: 'scatter', mode: 'lines',
    name: '\u2009' + seriesNames[1], line: {color: '#ff0000', width: 2.8},
    xaxis: 'x' + n, yaxis: 'y' + n, legend: legName, hoverinfo: 'skip'
  });

  const common = {
    showline: true, linecolor: AXC, linewidth: 2.5, mirror: 'ticks',
    ticks: 'inside', ticklen: 17, tickwidth: 2.5, tickcolor: AXC,
    showgrid: false, zeroline: false, tickmode: 'array',
    tickfont: {family: FONT, size: 82, color: '#000'}
  };
  layout['xaxis' + n] = Object.assign({}, common, {
    type: 'log', range: [0, 2], domain: [px(b[0]), px(b[1])], anchor: 'y' + n,
    tickvals: xTickVals, ticktext: xTickText, ticklabelstandoff: 46,
    minor: {tickmode: 'array', tickvals: xMinor, ticks: 'inside', ticklen: 9, tickwidth: 2, tickcolor: AXC, showgrid: false}
  });
  layout['yaxis' + n] = Object.assign({}, common, {
    type: 'log', range: [-6, 0], domain: [py(b[3]), py(b[2])], anchor: 'x' + n,
    tickvals: yTickVals, ticktext: yTickText, ticklabelstandoff: 10,
    minor: {tickmode: 'array', tickvals: yMinor, ticks: 'inside', ticklen: 9, tickwidth: 2, tickcolor: AXC, showgrid: false}
  });

  // legend frame (MATLAB-style box), legend entries drawn on top of it
  layout.shapes.push({
    type: 'rect', xref: 'paper', yref: 'paper', layer: 'above',
    x0: px(b[0] + 59), x1: px(b[0] + 507), y0: py(b[3] - 58), y1: py(b[3] - 288),
    fillcolor: '#ffffff', line: {color: AXC, width: 2.5}
  });
  layout[legName] = {
    x: px(b[0] + 69), y: py(b[3] - 286), xanchor: 'left', yanchor: 'top',
    xref: 'paper', yref: 'paper',
    bgcolor: 'rgba(0,0,0,0)', borderwidth: 0,
    font: {family: FONT, size: 80, color: '#000'},
    itemwidth: 176, tracegroupgap: 0, traceorder: 'normal'
  };

  // panel title
  layout.annotations.push({
    xref: 'paper', yref: 'paper',
    x: px((b[0] + b[1]) / 2), y: py(b[2] - 4),
    xanchor: 'center', yanchor: 'bottom', showarrow: false, borderpad: 0,
    text: '<b>True </b><span style="font-family:Liberation Serif;font-weight:normal"><i>\u03b2</i></span><b><sub><span style="font-size:105%;baseline-shift:-24px">xy</span></sub>: ' + panelTitles[i] + '</b>',
    font: {family: FONT, size: 88, color: '#000'}
  });

  // y axis title (left column)
  if (i % 2 === 0) {
    layout.annotations.push({
      xref: 'paper', yref: 'paper',
      x: px(54), y: py((b[2] + b[3]) / 2),
      xanchor: 'center', yanchor: 'middle', showarrow: false, textangle: -90, borderpad: 0,
      text: yAxisTitle, font: {family: FONT, size: 89, color: '#000'}
    });
  }
  // x axis title (bottom row)
  if (i >= 2) {
    layout.annotations.push({
      xref: 'paper', yref: 'paper',
      x: px((b[0] + b[1]) / 2), y: py(3278),
      xanchor: 'center', yanchor: 'middle', showarrow: false, borderpad: 0,
      text: xAxisTitle, font: {family: FONT, size: 89, color: '#000'}
    });
  }
});

Plotly.newPlot('chart', traces, layout, {displayModeBar: false, responsive: false});
</script>
</body>
</html>
